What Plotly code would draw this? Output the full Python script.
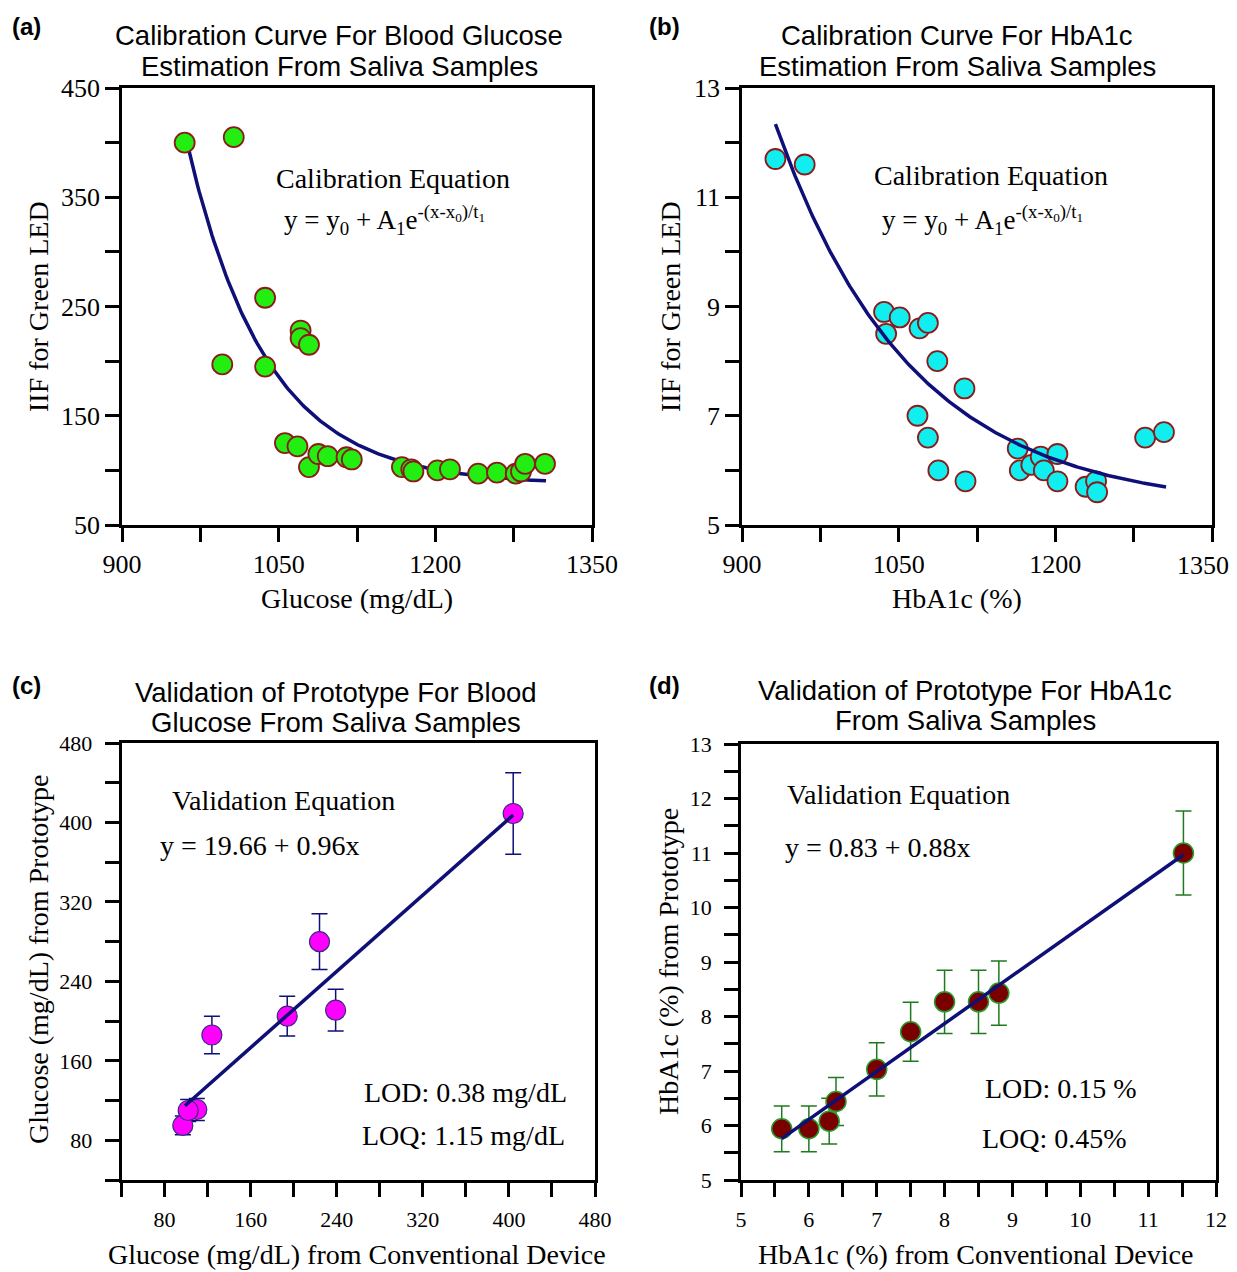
import numpy as np
import plotly.graph_objects as go

# The page body has an 8px margin, so the figure is placed 8px in from the
# top-left corner of the 1237x1272 window.
OFF = 8
W, H = 1237 - OFF, 1272 - OFF

# ---------------- data ----------------
# (a) calibration, blood glucose
glu_cal_x = [960, 1007, 1037, 996, 1037, 1071, 1071, 1079, 1056, 1068, 1079, 1088, 1097,
             1115, 1120, 1168, 1177, 1179, 1202, 1214, 1241, 1259, 1277, 1282, 1286, 1305]
glu_cal_y = [400, 405, 258, 197, 195, 228, 221, 215, 125, 122, 103, 115, 113,
             112, 110, 103, 101, 99, 100, 101, 97, 98, 97, 99, 106, 106]
glu_fit_y0, glu_fit_A1, glu_fit_x0, glu_fit_t1 = 87, 322, 960, 76
glu_fit_xmax = 1306

# (b) calibration, HbA1c
hb_cal_x = [932, 960, 1036, 1051, 1038, 1070, 1078, 1087, 1113, 1068, 1078, 1088, 1114,
            1164, 1166, 1177, 1186, 1189, 1202, 1202, 1229, 1239, 1240, 1286, 1304]
hb_cal_y = [11.7, 11.6, 8.9, 8.8, 8.5, 8.6, 8.7, 8.0, 7.5, 7.0, 6.6, 6.0, 5.8,
            6.4, 6.0, 6.1, 6.25, 6.0, 6.3, 5.8, 5.7, 5.8, 5.6, 6.6, 6.7]
hb_fit_y0, hb_fit_A1, hb_fit_x0, hb_fit_t1 = 5.3, 7.04, 932, 130
hb_fit_xmax = 1306

# (c) validation, blood glucose
glu_val_x = [97, 110, 102, 124, 194, 224, 239, 404]
glu_val_y = [95, 111, 110, 186, 205, 280, 211, 409]
glu_val_err = [9.5, 11, 11, 19, 20, 28, 21, 41]
glu_val_b0, glu_val_b1 = 19.66, 0.96

# (d) validation, HbA1c
hb_val_x = [5.6, 6.0, 6.3, 6.4, 7.0, 7.5, 8.0, 8.5, 8.8, 11.52]
hb_val_y = [5.94, 5.94, 6.08, 6.44, 7.03, 7.72, 8.27, 8.27, 8.43, 11.0]
hb_val_err = [0.42, 0.42, 0.42, 0.44, 0.49, 0.54, 0.58, 0.58, 0.59, 0.77]
hb_val_b0, hb_val_b1 = 0.83, 0.88

# tick definitions (labelled major ticks + unlabelled minor ticks)
cal_x_major = [900, 1050, 1200, 1350]
cal_x_minor = [975, 1125, 1275]
glu_cal_y_major = [50, 150, 250, 350, 450]
glu_cal_y_minor = [100, 200, 300, 400]
hb_cal_y_major = [5, 7, 9, 11, 13]
hb_cal_y_minor = [6, 8, 10, 12]
glu_val_major = [80, 160, 240, 320, 400, 480]
glu_val_minor = [40, 120, 200, 280, 360, 440]
hb_val_x_major = [5, 6, 7, 8, 9, 10, 11, 12]
hb_val_x_minor = [5.5, 6.5, 7.5, 8.5, 9.5, 10.5, 11.5]
hb_val_y_major = [5, 6, 7, 8, 9, 10, 11, 12, 13]
hb_val_y_minor = [5.5, 6.5, 7.5, 8.5, 9.5, 10.5, 11.5, 12.5]

# ---------------- styling ----------------
SERIF = "Liberation Serif"
SANS = "Liberation Sans"
NAVY = "#0f0f78"
DARKRED = "#8b1a1a"


def px(x):
    return (x - OFF) / W


def py(y):
    return 1 - (y - OFF) / H


fig = go.Figure()

# fit curve + points (a)
xa = np.linspace(glu_fit_x0, glu_fit_xmax, 200)
fig.add_trace(go.Scatter(x=xa, y=glu_fit_y0 + glu_fit_A1 * np.exp(-(xa - glu_fit_x0) / glu_fit_t1),
                         mode="lines", line=dict(color=NAVY, width=3.5), xaxis="x", yaxis="y"))
fig.add_trace(go.Scatter(x=glu_cal_x, y=glu_cal_y, mode="markers",
                         marker=dict(size=20, color="#22ee11", line=dict(color=DARKRED, width=1.8)),
                         xaxis="x", yaxis="y"))

# (b)
xb = np.linspace(hb_fit_x0, hb_fit_xmax, 200)
fig.add_trace(go.Scatter(x=hb_cal_x, y=hb_cal_y, mode="markers",
                         marker=dict(size=20, color="#11eef0", line=dict(color=DARKRED, width=1.8)),
                         xaxis="x2", yaxis="y2"))
fig.add_trace(go.Scatter(x=xb, y=hb_fit_y0 + hb_fit_A1 * np.exp(-(xb - hb_fit_x0) / hb_fit_t1),
                         mode="lines", line=dict(color=NAVY, width=3.5), xaxis="x2", yaxis="y2"))

# (c)
fig.add_trace(go.Scatter(x=glu_val_x, y=glu_val_y, mode="markers",
                         error_y=dict(type="data", array=glu_val_err, color=NAVY, thickness=1.5, width=8),
                         marker=dict(size=20, color="#ff00ff", line=dict(color="#3a2a80", width=1.2)),
                         xaxis="x3", yaxis="y3"))
xc = np.array([min(glu_val_x) + 2, max(glu_val_x)])
fig.add_trace(go.Scatter(x=xc, y=glu_val_b0 + glu_val_b1 * xc, mode="lines",
                         line=dict(color=NAVY, width=3.5), xaxis="x3", yaxis="y3"))

# (d)
fig.add_trace(go.Scatter(x=hb_val_x, y=hb_val_y, mode="markers",
                         error_y=dict(type="data", array=hb_val_err, color="#1f7a1f", thickness=1.5, width=8),
                         marker=dict(size=20, color="#7a0000", line=dict(color="#2a9a2a", width=1.5)),
                         xaxis="x4", yaxis="y4"))
xd = np.array([min(hb_val_x), max(hb_val_x)])
fig.add_trace(go.Scatter(x=xd, y=hb_val_b0 + hb_val_b1 * xd, mode="lines",
                         line=dict(color=NAVY, width=3.5), xaxis="x4", yaxis="y4"))


def axis(domain, anchor, rng, major, minor, fsize, standoff):
    return dict(domain=domain, anchor=anchor, range=rng, automargin=False,
                showline=True, linecolor="black", linewidth=2.5, mirror=True,
                ticks="outside", ticklen=14, tickwidth=2.5, tickcolor="black",
                tickmode="array", tickvals=major, ticktext=[f"{v:g}" for v in major],
                ticklabelstandoff=standoff, ticklabeloverflow="allow",
                minor=dict(tickmode="array", tickvals=minor, ticks="outside", ticklen=14,
                           tickwidth=2.5, tickcolor="black", showgrid=False),
                showgrid=False, zeroline=False,
                tickfont=dict(family=SERIF, size=fsize, color="black"))


dom = {
    "a": ([px(122), px(592)], [py(525), py(88)]),
    "b": ([px(742), px(1212)], [py(525), py(88)]),
    "c": ([px(121.5), px(595)], [py(1180), py(743)]),
    "d": ([px(741), px(1216)], [py(1180), py(744)]),
}

# panel (b): the last x label sits at the window edge, so it is drawn as text
# nudged inward (as in the original figure); its tick stays on the axis.
b_major = cal_x_major[:-1]
b_minor = cal_x_minor + cal_x_major[-1:]

fig.update_layout(
    width=W, height=H, autosize=False,
    margin=dict(l=0, r=0, t=0, b=0, autoexpand=False),
    paper_bgcolor="white", plot_bgcolor="white",
    showlegend=False,
    xaxis=axis(dom["a"][0], "y", [900, 1350], cal_x_major, cal_x_minor, 26, 0),
    yaxis=axis(dom["a"][1], "x", [50, 450], glu_cal_y_major, glu_cal_y_minor, 26, 0),
    xaxis2=axis(dom["b"][0], "y2", [900, 1350], b_major, b_minor, 26, 0),
    yaxis2=axis(dom["b"][1], "x2", [5, 13], hb_cal_y_major, hb_cal_y_minor, 26, 0),
    xaxis3=axis(dom["c"][0], "y3", [40, 480], glu_val_major, glu_val_minor, 22, 4),
    yaxis3=axis(dom["c"][1], "x3", [40, 480], glu_val_major, glu_val_minor, 22, 8),
    xaxis4=axis(dom["d"][0], "y4", [5, 12], hb_val_x_major, hb_val_x_minor, 22, 4),
    yaxis4=axis(dom["d"][1], "x4", [5, 13], hb_val_y_major, hb_val_y_minor, 22, 8),
)

ann = []


def add_text(text, x, y, size, family=SERIF, angle=0, xanchor="center", bold=False):
    if bold:
        text = "<b>" + text + "</b>"
    ann.append(dict(text=text, x=px(x), y=py(y), xref="paper", yref="paper",
                    xanchor=xanchor, yanchor="middle", showarrow=False, textangle=angle,
                    font=dict(family=family, size=size, color="black")))


# last x tick label of panel (b)
add_text(f"{cal_x_major[-1]:g}", 1203, 565, 26)

# panel labels
add_text("(a)", 26, 27, 24, SANS, bold=True)
add_text("(b)", 664, 27, 24, SANS, bold=True)
add_text("(c)", 26, 685, 24, SANS, bold=True)
add_text("(d)", 664, 685, 24, SANS, bold=True)

# titles
TS = 27.5
add_text("Calibration Curve For Blood Glucose", 339, 35, TS, SANS)
add_text("Estimation From Saliva Samples", 339, 66, TS, SANS)
add_text("Calibration Curve For HbA1c", 957, 35, TS, SANS)
add_text("Estimation From Saliva Samples", 957, 66, TS, SANS)
add_text("Validation of Prototype For Blood", 336, 692, TS, SANS)
add_text("Glucose From Saliva Samples", 336, 722, TS, SANS)
add_text("Validation of Prototype For HbA1c", 965, 690, TS, SANS)
add_text("From Saliva Samples", 965, 720, TS, SANS)

# axis titles
AS = 28
add_text("IIF for Green LED", 38, 307, AS, angle=-90)
add_text("Glucose (mg/dL)", 357, 599, AS)
add_text("IIF for Green LED", 670, 307, AS, angle=-90)
add_text("HbA1c (%)", 957, 599, AS)
add_text("Glucose (mg/dL) from Prototype", 38, 960, AS, angle=-90)
add_text("Glucose (mg/dL) from Conventional Device", 357, 1254, AS)
add_text("HbA1c (%) from Prototype", 668, 962, AS, angle=-90)
add_text("HbA1c (%) from Conventional Device", 975, 1254, AS)

# equations
ES = 28
eq = "y = y<sub>0</sub> + A<sub>1</sub>e<sup>-(x-x<sub>0</sub>)/t<sub>1</sub></sup>"
add_text("Calibration Equation", 393, 178, ES)
add_text(eq, 282, 220, 27, xanchor="left")
add_text("Calibration Equation", 991, 175, ES)
add_text(eq, 880, 220, 27, xanchor="left")

add_text("Validation Equation", 283, 800, ES)
add_text("y = 19.66 + 0.96x", 158, 845, ES, xanchor="left")
add_text("LOD: 0.38 mg/dL", 362, 1092, ES, xanchor="left")
add_text("LOQ: 1.15 mg/dL", 360, 1135, ES, xanchor="left")

add_text("Validation Equation", 898, 794, ES)
add_text("y = 0.83 + 0.88x", 783, 847, ES, xanchor="left")
add_text("LOD: 0.15 %", 983, 1088, ES, xanchor="left")
add_text("LOQ: 0.45%", 980, 1138, ES, xanchor="left")

fig.update_layout(annotations=ann)

fig.write_html("out.html")
